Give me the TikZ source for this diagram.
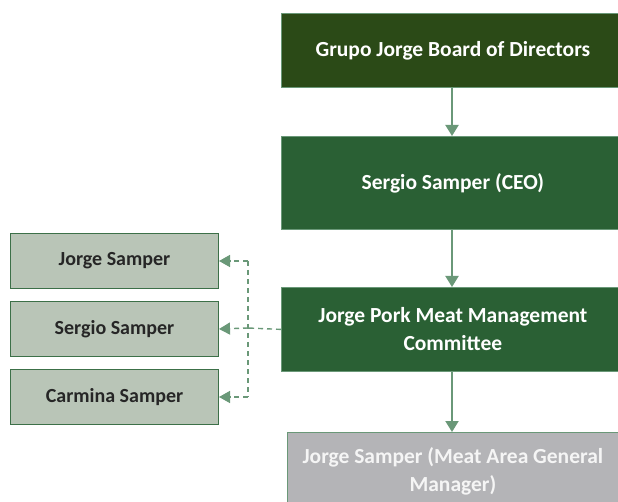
\documentclass[tikz,border=0pt]{standalone}
\usepackage{fontspec}
\setmainfont{Carlito}
\usetikzlibrary{arrows.meta}
\definecolor{dkA}{HTML}{2B4A17}
\definecolor{dkB}{HTML}{2A6034}
\definecolor{lt}{HTML}{B9C5B7}
\definecolor{bd}{HTML}{3C7048}
\definecolor{arr}{HTML}{6A9878}
\definecolor{gr}{HTML}{B4B4B7}
\tikzset{
  x=1pt,y=-1pt,
  mainbox/.style={draw=arr, line width=0.8pt, text=white, font=\bfseries\fontsize{21.5}{28}\selectfont, align=center, anchor=north west, inner sep=0pt},
  sidebox/.style={draw=bd, line width=1pt, fill=lt, text=black!85, font=\bfseries\fontsize{20}{24}\selectfont, align=center, anchor=north west, inner sep=0pt, minimum width=208pt, minimum height=55pt},
  conn/.style={draw=arr, line width=2pt, -{Triangle[length=11pt,width=13pt]}},
  dconn/.style={draw=arr, line width=1.4pt, dash pattern=on 5pt off 4pt},
  darrow/.style={-{Triangle[length=11pt,width=12pt]}},
}
\begin{document}
\begin{tikzpicture}
\useasboundingbox (0,0) rectangle (618,502);
\node[mainbox, fill=dkA, minimum width=343pt, minimum height=74pt] (b1) at (281,13) {Grupo Jorge Board of Directors};
\node[mainbox, fill=dkB, minimum width=343pt, minimum height=93pt] (b2) at (281,136) {Sergio Samper (CEO)};
\node[mainbox, fill=dkB, minimum width=343pt, minimum height=84pt] (b3) at (281,287) {Jorge Pork Meat Management\\Committee};
\node[mainbox, fill=gr, text=white!92!gray, minimum width=331pt, minimum height=78pt] (b4) at (287,432) {Jorge Samper (Meat Area General\\Manager)};
\node[sidebox] (s1) at (10,233) {Jorge Samper};
\node[sidebox] (s2) at (10,301) {Sergio Samper};
\node[sidebox] (s3) at (10,369) {Carmina Samper};
\draw[conn] (b1.south -| 452,0) -- (b2.north -| 452,0);
\draw[conn] (b2.south -| 452,0) -- (b3.north -| 452,0);
\draw[conn] (b3.south -| 452,0) -- (b4.north -| 452,0);
\coordinate (j) at (248,328);
\coordinate (jt) at (248,261);
\coordinate (jb) at (248,397);
\draw[dconn] (b3.west) -- (j);
\draw[dconn] (jt) -- (jb);
\draw[dconn, darrow] (jt) -- (s1.east);
\draw[dconn, darrow] (j) -- (s2.east);
\draw[dconn, darrow] (jb) -- (s3.east);
\end{tikzpicture}
\end{document}
